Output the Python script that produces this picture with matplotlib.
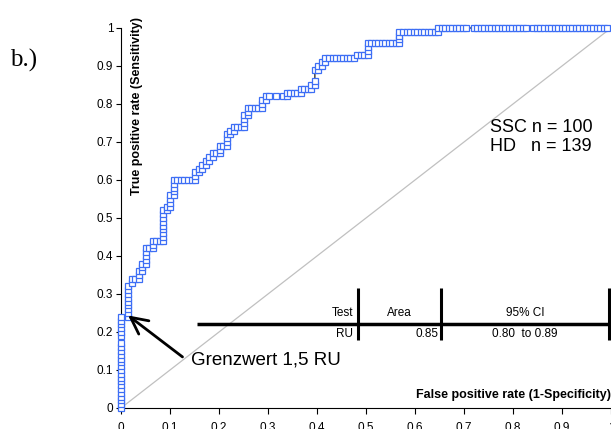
import matplotlib
matplotlib.use("Agg")
import matplotlib.pyplot as plt

# ROC points as counts: false positives (of 139 HD) and true positives (of 100 SSC)
n_hd = 139
n_ssc = 100
fp_count = [0, 0, 0, 0, 0, 0, 0, 0, 0, 0, 0, 0, 0, 0, 0, 0, 0, 0, 0, 0, 0, 0, 0, 0,
            2, 2, 2, 2, 2, 2, 2, 2, 2,
            3, 3, 4, 5, 5, 5, 6, 6, 6,
            7, 7, 7, 7, 7, 8, 9, 9, 9,
            10, 11, 12, 12, 12, 12, 12, 12, 12, 12, 12,
            13, 13, 14, 14, 14, 14, 15, 15, 15, 15, 15,
            16, 17, 18, 19, 20, 21, 21, 21, 22, 22, 23, 23,
            24, 24, 25, 25, 26, 26, 27, 28, 28, 28, 29, 30,
            30, 30, 30, 31, 31, 32, 32, 33, 34, 35, 35, 35, 35,
            36, 36, 36, 37, 38, 39, 40, 40, 40, 41, 41, 42, 44, 46, 47,
            47, 48, 49, 50, 51, 51, 52, 53, 54, 54, 55, 55,
            55, 56, 56, 57, 57, 58, 58, 59, 60, 61, 62, 63, 64, 65, 66,
            67, 68, 69, 70, 70, 70, 70, 71, 72, 73, 74, 75, 76, 77, 78, 79,
            79, 79, 79, 80, 81, 82, 83, 84, 85, 86, 87, 88, 89, 90,
            90, 91, 92, 93, 94, 95, 96, 97, 98, 100, 101, 102, 103, 104, 105,
            106, 107, 108, 109, 110, 111, 112, 113, 114, 115,
            117, 118, 119, 120, 121, 122, 123, 124, 125, 126, 127, 128, 129, 130,
            131, 132, 133, 134, 135, 136, 137, 138]
tp_count = [0, 1, 2, 3, 4, 5, 6, 7, 8, 9, 10, 11, 12, 13, 14, 15, 16, 17, 19, 20, 21, 22, 23, 24,
            24, 25, 26, 27, 28, 29, 30, 31, 32,
            33, 34, 34, 34, 35, 36, 36, 37, 38,
            38, 39, 40, 41, 42, 42, 42, 43, 44,
            44, 44, 44, 45, 46, 47, 48, 49, 50, 51, 52,
            52, 53, 53, 54, 55, 56, 56, 57, 58, 59, 60,
            60, 60, 60, 60, 60, 60, 61, 62, 62, 63, 63, 64,
            64, 65, 65, 66, 66, 67, 67, 67, 68, 69, 69, 69,
            70, 71, 72, 72, 73, 73, 74, 74, 74, 74, 75, 76, 77,
            77, 78, 79, 79, 79, 79, 79, 80, 81, 81, 82, 82, 82, 82, 82,
            83, 83, 83, 83, 83, 84, 84, 84, 84, 85, 85, 86,
            89, 89, 90, 90, 91, 91, 92, 92, 92, 92, 92, 92, 92, 92, 92,
            93, 93, 93, 93, 94, 95, 96, 96, 96, 96, 96, 96, 96, 96, 96, 96,
            97, 98, 99, 99, 99, 99, 99, 99, 99, 99, 99, 99, 99, 99,
            100, 100, 100, 100, 100, 100, 100, 100, 100, 100, 100, 100, 100, 100, 100,
            100, 100, 100, 100, 100, 100, 100, 100, 100, 100,
            100, 100, 100, 100, 100, 100, 100, 100, 100, 100, 100, 100, 100, 100,
            100, 100, 100, 100, 100, 100, 100, 100]

fpr = [f / n_hd for f in fp_count]
tpr = [t / n_ssc for t in tp_count]

tick_vals = [0, 0.1, 0.2, 0.3, 0.4, 0.5, 0.6, 0.7, 0.8, 0.9, 1]
tick_labels = ["0", "0.1", "0.2", "0.3", "0.4", "0.5", "0.6", "0.7", "0.8", "0.9", "1"]

table_header = ["Test", "Area", "95% CI"]
table_row = ["RU", "0.85", "0.80  to 0.89"]

plt.rcParams['font.family'] = ['Liberation Sans', 'DejaVu Sans']

fig = plt.figure(figsize=(6.11, 4.29), dpi=100)
ax = fig.add_axes([121 / 611, 21 / 429, 490 / 611, 380 / 429])

# chance diagonal
ax.plot([0, 1], [0, 1], color="#c0c0c0", lw=0.9, zorder=1)

# roc curve
ax.plot(fpr, tpr, color="black", lw=0.8, zorder=2, clip_on=False)
ax.plot(fpr, tpr, linestyle="none", marker="s", markersize=4.6,
        markerfacecolor="white", markeredgecolor="#3d6ef5", markeredgewidth=0.9,
        zorder=3, clip_on=False)

ax.set_xlim(0, 1)
ax.set_ylim(0, 1)
ax.set_xticks(tick_vals)
ax.set_xticklabels(tick_labels)
ax.set_yticks(tick_vals)
ax.set_yticklabels(tick_labels)
ax.tick_params(axis="x", direction="out", length=4, width=0.8, pad=6, labelsize=8.5)
ax.tick_params(axis="y", direction="out", length=3.5, width=0.8, pad=2, labelsize=8.5)
ax.spines["top"].set_visible(False)
ax.spines["right"].set_visible(False)
ax.spines["left"].set_linewidth(0.8)
ax.spines["bottom"].set_linewidth(0.8)

# axis titles inside the plot area
ax.text(1.0, 0.034, "False positive rate (1-Specificity)", ha="right", va="center",
        fontsize=9, fontweight="bold")
ax.text(0.033, 0.795, "True positive rate (Sensitivity)", rotation=90, ha="center",
        va="center", fontsize=9, fontweight="bold", clip_on=False)

# sample sizes
ax.text(0.753, 0.739, "SSC n = 100", fontsize=13, va="center", ha="left")
ax.text(0.753, 0.687, "HD   n = 139", fontsize=13, va="center", ha="left")

# cut-off annotation
ax.annotate("", xy=(0.01, 0.248), xytext=(0.13, 0.13),
            arrowprops=dict(arrowstyle="->,head_length=1.2,head_width=0.6", color="black",
                            lw=2))
ax.text(0.142, 0.126, "Grenzwert 1,5 RU", fontsize=13.5, va="center", ha="left")

# AUC table
ax.plot([0.155, 1.0], [0.221, 0.221], color="black", lw=2.5, solid_capstyle="butt",
        clip_on=False)
for xv in [0.484, 0.653, 0.996]:
    ax.plot([xv, xv], [0.179, 0.316], color="black", lw=2.2, solid_capstyle="butt",
            clip_on=False)
ax.text(0.475, 0.25, table_header[0], ha="right", va="center", fontsize=8.5)
ax.text(0.569, 0.25, table_header[1], ha="center", va="center", fontsize=8.5)
ax.text(0.824, 0.25, table_header[2], ha="center", va="center", fontsize=8.5)
ax.text(0.473, 0.196, table_row[0], ha="right", va="center", fontsize=8.5)
ax.text(0.647, 0.196, table_row[1], ha="right", va="center", fontsize=8.5)
ax.text(0.824, 0.196, table_row[2], ha="center", va="center", fontsize=8.5)

fig.text(10 / 611, 1 - 67 / 429, "b.)", fontsize=18, family="Liberation Serif",
         ha="left", va="baseline")

fig.savefig("out.png", dpi=100)
